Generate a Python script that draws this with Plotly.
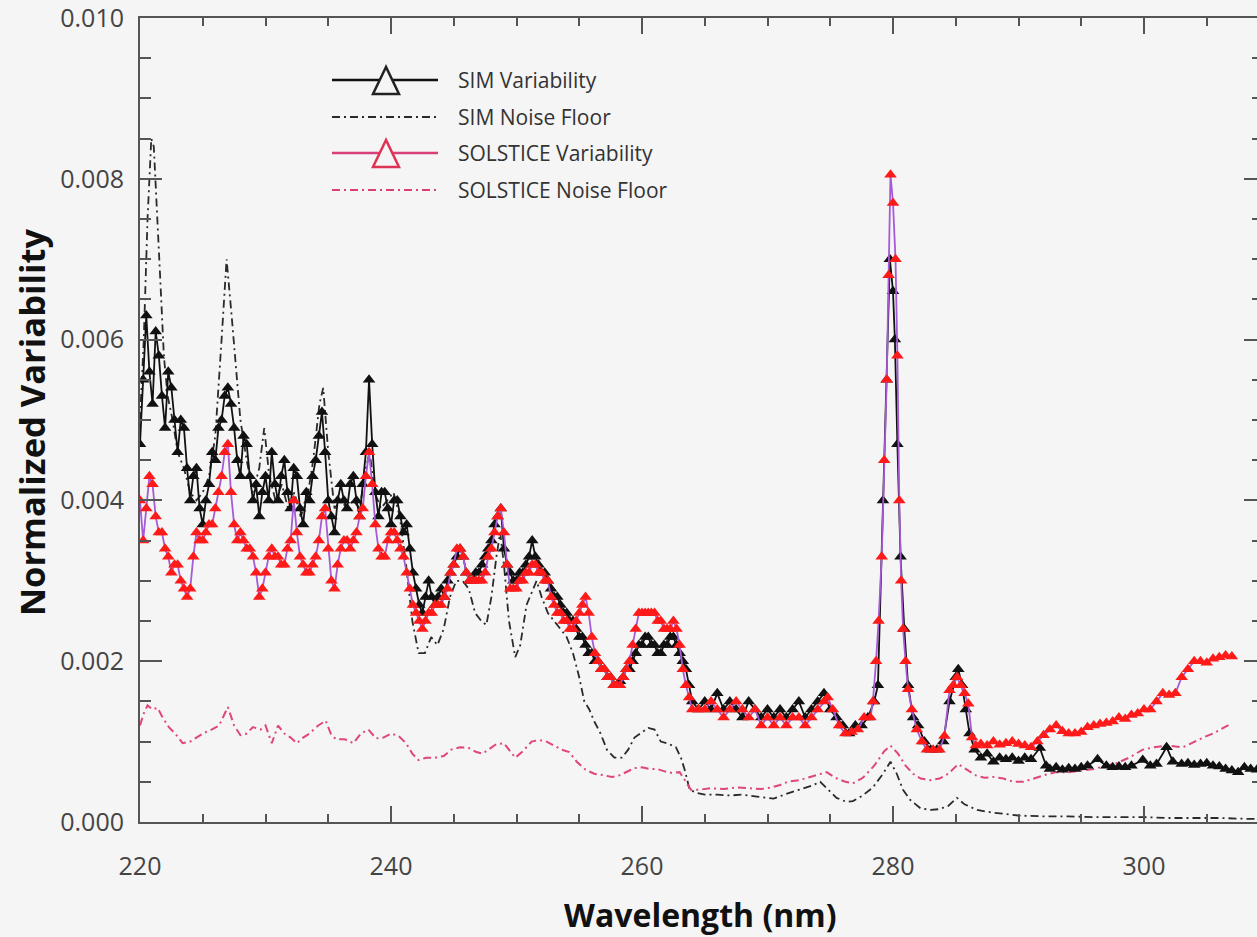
import plotly.graph_objects as go

# ---------------- data ----------------
# SIM variability: 0.25 nm sampling from 220 to 264 nm, then the values listed below
sim_var_dense = [
    0.0047, 0.0055, 0.0063, 0.0056, 0.0052, 0.0061, 0.0058, 0.0053, 0.0049, 0.0056,
    0.0054, 0.0050, 0.0046, 0.0050, 0.0049, 0.0044, 0.0040, 0.0043, 0.0044, 0.0039,
    0.0037, 0.0040, 0.0042, 0.0046, 0.0045, 0.0049, 0.0050, 0.0053, 0.0054, 0.0052,
    0.0049, 0.0045, 0.0043, 0.0048, 0.0047, 0.0043, 0.0040, 0.0042, 0.0038, 0.0041,
    0.0043, 0.0040, 0.0046, 0.0042, 0.0040, 0.0043, 0.0045, 0.0041, 0.0039, 0.0044,
    0.0043, 0.0039, 0.0037, 0.0041, 0.0040, 0.0043, 0.0045, 0.0048, 0.0051, 0.0046,
    0.0040, 0.0038, 0.0036, 0.0040, 0.0042, 0.0040, 0.0039, 0.0042, 0.0043, 0.0040,
    0.0038, 0.0042, 0.0046, 0.0055, 0.0047, 0.0041, 0.0038, 0.0041, 0.0041, 0.0039,
    0.0037, 0.0040, 0.0040, 0.0038, 0.0036, 0.0037, 0.0034, 0.0031, 0.0029, 0.0027,
    0.0026, 0.0028, 0.0030, 0.0028, 0.0027, 0.0028, 0.0029, 0.0028, 0.0030, 0.0031,
    0.0032, 0.0033, 0.0034, 0.0033, 0.0031, 0.0030, 0.0030, 0.0031, 0.0031, 0.0032,
    0.0033, 0.0034, 0.0035, 0.0037, 0.0038, 0.0039, 0.0034, 0.0032, 0.0031, 0.0030,
    0.0030, 0.0031, 0.0031, 0.0032, 0.0033, 0.0035, 0.0033, 0.0032, 0.0031, 0.0031,
    0.0030, 0.0029, 0.0028, 0.0028, 0.0027, 0.0026, 0.0026, 0.0025, 0.0025, 0.0024,
    0.0023, 0.0023, 0.0022, 0.0021, 0.0021, 0.0020, 0.0020, 0.0019, 0.0019, 0.0018,
    0.0018, 0.0017, 0.0017, 0.00175, 0.0018, 0.0019, 0.0019, 0.0020, 0.0021, 0.0022,
    0.0022, 0.0023, 0.0023, 0.0022, 0.0022, 0.0021, 0.0021, 0.0022, 0.0022, 0.0023,
    0.0023, 0.0022, 0.0021, 0.0020, 0.0019, 0.0017, 0.0015,
]
sim_var_tail_wl = [
    264.5, 265.0, 265.5, 266.0, 266.5, 267.0, 267.5, 268.0, 268.5,
    269.0, 269.5, 270.0, 270.5, 271.0, 271.5, 272.0, 272.5, 273.0, 273.5,
    274.0, 274.5, 275.0, 275.5, 276.0, 276.5, 277.0, 277.5, 278.0, 278.5,
    278.8, 279.2, 279.5, 279.75, 280.0, 280.15, 280.35, 280.6, 280.9, 281.2,
    281.6, 282.0, 282.5, 283.0, 283.5, 284.0, 284.5, 285.0, 285.2, 285.5,
    285.8, 286.1, 286.5, 287.0, 287.5, 288.0, 288.5, 289.0, 289.5, 290.0,
    290.5, 291.0, 291.7, 292.2, 292.5, 293.0, 293.5, 294.0, 294.5, 295.0,
    295.5, 296.3, 297.0, 297.5, 298.0, 298.5, 299.0, 299.9, 300.5, 301.0,
    301.8, 302.3, 303.0, 303.5, 304.0, 304.5, 305.0, 305.5, 306.0, 306.5,
    307.0, 307.5, 308.0, 308.5, 309.0,
]
sim_var_tail = [
    0.0014, 0.0015, 0.0014, 0.0016, 0.0014, 0.0015, 0.0014, 0.0013, 0.0015,
    0.0014, 0.0013, 0.0014, 0.0013, 0.0014, 0.0013, 0.0014, 0.0015, 0.0013, 0.0014,
    0.0015, 0.0016, 0.0014, 0.0013, 0.0012, 0.0011, 0.0012, 0.0012, 0.0013, 0.0015,
    0.0017, 0.0040, 0.0055, 0.0070, 0.0066, 0.0060, 0.0047, 0.0033, 0.0024, 0.0017,
    0.0013, 0.0012, 0.0010, 0.0009, 0.0009, 0.0010, 0.0015, 0.0018, 0.0019, 0.0017,
    0.0014, 0.0011, 0.0009, 0.0008, 0.00085, 0.00075, 0.0008, 0.00078, 0.0008, 0.00076,
    0.0008, 0.00078, 0.00092, 0.0007, 0.00066, 0.00068, 0.00065, 0.00067, 0.00066, 0.00068,
    0.0007, 0.00078, 0.0007, 0.00068, 0.00069, 0.00068, 0.0007, 0.00077, 0.0007, 0.00072,
    0.00093, 0.00075, 0.00072, 0.00073, 0.00071, 0.00072, 0.00073, 0.0007, 0.00069, 0.00066,
    0.00064, 0.00062, 0.00068, 0.00066, 0.00065,
]

# SOLSTICE variability: 0.25 nm sampling from 220 to 264 nm, then the values listed below
sol_var_dense = [
    0.0040, 0.0035, 0.0039, 0.0043, 0.0042, 0.0038, 0.0036, 0.0036, 0.0034, 0.0033,
    0.0031, 0.0032, 0.0032, 0.0030, 0.0029, 0.0028, 0.0029, 0.0033, 0.0036, 0.0035,
    0.0035, 0.0036, 0.0037, 0.0037, 0.0039, 0.0041, 0.0043, 0.0046, 0.0047, 0.0041,
    0.0037, 0.0035, 0.0036, 0.0035, 0.0034, 0.0034, 0.0033, 0.0031, 0.0028, 0.0029,
    0.0031, 0.0033, 0.0034, 0.0033, 0.0033, 0.0032, 0.0032, 0.0034, 0.0035, 0.0040,
    0.0036, 0.0033, 0.0032, 0.0031, 0.0031, 0.0032, 0.0033, 0.0035, 0.0038, 0.0039,
    0.0034, 0.0030, 0.0029, 0.0032, 0.0034, 0.0035, 0.0035, 0.0034, 0.0035, 0.0036,
    0.0038, 0.0039, 0.0043, 0.0046, 0.0042, 0.0037, 0.0034, 0.0033, 0.0033, 0.0035,
    0.0036, 0.0036, 0.0035, 0.0034, 0.0033, 0.0031, 0.0029, 0.0027, 0.0026, 0.0025,
    0.0024, 0.0025, 0.0026, 0.0026, 0.0027, 0.0027, 0.0027, 0.0028, 0.0029, 0.0031,
    0.0032, 0.0034, 0.0034, 0.0033, 0.0031, 0.0030, 0.0030, 0.0030, 0.0030, 0.0030,
    0.0031, 0.0033, 0.0034, 0.0036, 0.0038, 0.0039, 0.0036, 0.0032, 0.0029, 0.0029,
    0.0029, 0.0030, 0.0030, 0.0031, 0.0031, 0.0032, 0.0032, 0.0031, 0.0031, 0.0030,
    0.0030, 0.0028, 0.0027, 0.0026, 0.0026, 0.0025, 0.0025, 0.0024, 0.0024, 0.0025,
    0.0026, 0.0027, 0.0028, 0.0026, 0.0023, 0.0021, 0.0020, 0.0019, 0.0019, 0.0018,
    0.0018, 0.0017, 0.0017, 0.0017, 0.0018, 0.0019, 0.0020, 0.0022, 0.0024, 0.0026,
    0.0026, 0.0026, 0.0026, 0.0026, 0.0026, 0.0025, 0.0025, 0.0024, 0.0024, 0.0024,
    0.0025, 0.0024, 0.0022, 0.0019, 0.0017, 0.00155, 0.0014,
]
sol_var_tail_wl = [
    264.5, 265.0, 265.5, 266.0, 266.5, 267.0, 267.5, 268.0, 268.5, 269.0,
    269.5, 270.0, 270.5, 271.0, 271.5, 272.0, 272.5, 273.0, 273.5, 274.0,
    274.5, 274.8, 275.2, 275.7, 276.2, 276.7, 277.2, 277.7, 278.2, 278.4,
    278.65, 278.85, 279.1, 279.3, 279.5, 279.65, 279.8, 280.0, 280.2, 280.35,
    280.5, 280.65, 280.8, 281.0, 281.2, 281.5, 281.9, 282.3, 282.7, 283.2,
    283.7, 284.1, 284.5, 284.8, 285.1, 285.4, 285.7, 286.0, 286.3, 286.6,
    287.0, 287.5, 288.0, 288.5, 289.0, 289.5, 290.0, 290.5, 291.0, 291.5,
    292.0, 292.5, 293.0, 293.5, 294.0, 294.5, 295.0, 295.5, 296.0, 296.5,
    297.0, 297.5, 298.0, 298.5, 299.0, 299.5, 300.0, 300.5, 301.0, 301.5,
    302.0, 302.5, 303.0, 303.5, 304.0, 304.5, 305.0, 305.5, 306.0, 306.5,
    307.0,
]
sol_var_tail = [
    0.0014, 0.0014, 0.0015, 0.0014, 0.0013, 0.0014, 0.0015, 0.0014, 0.0013, 0.0014,
    0.0012, 0.0013, 0.0012, 0.0013, 0.0012, 0.0013, 0.0013, 0.0012, 0.0013, 0.0014,
    0.0015, 0.00155, 0.0014, 0.0012, 0.0011, 0.00112, 0.00115, 0.0013, 0.0013, 0.0015,
    0.0020, 0.0025, 0.0033, 0.0045, 0.0055, 0.0068, 0.00805, 0.0077, 0.0070, 0.0058,
    0.0040, 0.0030, 0.0024, 0.0020, 0.00165, 0.0014, 0.00115, 0.0010, 0.0009, 0.0009,
    0.0009, 0.00107, 0.00164, 0.0017, 0.0018, 0.0017, 0.0016, 0.00147, 0.00105, 0.00095,
    0.00097, 0.00095, 0.0010, 0.00096, 0.00098, 0.0010, 0.00097, 0.00095, 0.00093, 0.0010,
    0.00108, 0.00115, 0.0012, 0.00113, 0.0011, 0.0011, 0.00112, 0.00118, 0.0012, 0.00122,
    0.00123, 0.00125, 0.0013, 0.00128, 0.00133, 0.00135, 0.0014, 0.0014, 0.0015, 0.0016,
    0.00158, 0.0016, 0.0018, 0.0019, 0.0020, 0.0020, 0.00198, 0.00203, 0.00205, 0.00207,
    0.00206,
]

sim_noise_wl = [
    220.0, 220.3, 220.6, 220.9, 221.1, 221.3, 221.6, 221.9, 222.2, 222.6,
    223.0, 223.5, 224.0, 224.5, 225.0, 225.5, 226.0, 226.5, 226.9, 227.3,
    227.7, 228.0, 228.5, 229.0, 229.5, 229.9, 230.3, 230.8, 231.3, 231.8,
    232.3, 232.8, 233.3, 233.8, 234.3, 234.6, 235.0, 235.5, 236.0, 236.5,
    237.0, 237.5, 238.0, 238.3, 238.7, 239.2, 239.7, 240.2, 240.7, 241.2,
    241.7, 242.2, 242.7, 243.2, 243.7, 244.2, 244.7, 245.2, 245.7, 246.2,
    246.7, 247.2, 247.6, 248.0, 248.4, 248.7, 249.0, 249.4, 249.9, 250.3,
    250.8, 251.3, 251.6, 252.0, 252.5, 253.0, 253.5, 254.0, 254.5, 255.0,
    255.4, 255.8, 256.2, 256.7, 257.2, 257.8, 258.4, 258.9, 259.4, 259.9,
    260.5, 261.0, 261.5, 262.0, 262.7, 263.1, 263.4, 263.8, 264.4, 265.0,
    266.0, 267.0, 268.0, 269.0, 270.0, 270.5, 271.5, 272.5, 273.5, 274.2,
    274.7, 275.5, 276.3, 276.8, 277.5, 278.4, 279.2, 279.8, 280.3, 280.8,
    281.4, 282.2, 283.0, 283.7, 284.4, 285.1, 285.7, 286.7, 287.8, 288.8,
    290.0, 292.0, 294.0, 296.0, 298.0, 300.0, 302.0, 304.0, 306.0, 308.0,
    309.0,
]
sim_noise = [
    0.0050, 0.0060, 0.0075, 0.0085, 0.0084, 0.0078, 0.0068, 0.0058, 0.0053, 0.0050,
    0.0046, 0.0044, 0.0041, 0.0040, 0.0041, 0.0043, 0.0048, 0.0060, 0.0070, 0.0063,
    0.0055, 0.0050, 0.0045, 0.0041, 0.0044, 0.0049, 0.0043, 0.0040, 0.0042, 0.0039,
    0.0041, 0.0038, 0.0040, 0.0045, 0.0052, 0.0054, 0.0046, 0.0039, 0.0040, 0.0039,
    0.0040, 0.0039, 0.0044, 0.0046, 0.0041, 0.0039, 0.0040, 0.0041, 0.0038, 0.0032,
    0.0025, 0.0021, 0.0021, 0.0023, 0.0022, 0.0024, 0.0028, 0.0030, 0.0030, 0.0029,
    0.0026, 0.0025, 0.00245, 0.0028, 0.0033, 0.0036, 0.0032, 0.0025, 0.00205, 0.0022,
    0.0027, 0.0029, 0.0030, 0.0028, 0.0026, 0.0025, 0.0024, 0.0023, 0.0021, 0.0018,
    0.0015, 0.0014, 0.00125, 0.0011, 0.0009, 0.0008, 0.0008, 0.0009, 0.00105, 0.0011,
    0.00117, 0.00115, 0.0010, 0.00098, 0.00093, 0.0008, 0.00065, 0.0004, 0.00036, 0.00034,
    0.00034, 0.00033, 0.00034, 0.00032, 0.0003, 0.00029, 0.00035, 0.0004, 0.00045, 0.0005,
    0.00042, 0.0003, 0.00025, 0.00026, 0.00032, 0.00043, 0.0006, 0.00075, 0.0006, 0.0004,
    0.00027, 0.00017, 0.00015, 0.00016, 0.0002, 0.0003, 0.00022, 0.00015, 0.00012, 0.0001,
    0.00008, 0.00007, 0.00007, 0.00006, 0.00006, 0.00006, 0.00005, 0.00005, 0.00005, 0.00004,
    0.00004,
]

sol_noise_wl = [
    220.0, 220.3, 220.6, 221.0, 221.4, 221.8, 222.3, 222.8, 223.4, 224.0,
    224.5, 225.0, 225.7, 226.3, 227.0, 227.5, 228.0, 228.5, 229.0, 229.6,
    230.0, 230.5, 231.0, 231.5, 232.0, 232.5, 233.0, 233.5, 234.2, 234.8,
    235.2, 235.6, 236.3, 237.0, 237.6, 238.2, 238.8, 239.4, 240.0, 240.6,
    241.2, 241.7, 242.2, 242.8, 243.5, 244.2, 244.8, 245.5, 246.2, 246.8,
    247.3, 247.8, 248.4, 249.0, 249.5, 249.9, 250.5, 251.2, 251.8, 252.4,
    253.0, 253.6, 254.2, 254.8, 255.5, 256.2, 257.0, 257.6, 258.2, 258.8,
    259.4, 260.0, 260.6, 261.2, 261.8, 262.4, 263.0, 263.5, 263.9, 264.5,
    265.5, 266.5, 267.5, 268.5, 269.5, 270.3, 271.0, 271.6, 272.5, 273.4,
    274.2, 274.7, 275.4, 276.2, 276.8, 277.6, 278.5, 279.3, 279.8, 280.4,
    281.0, 281.6, 282.2, 283.0, 283.7, 284.4, 285.2, 285.8, 286.6, 287.3,
    288.0, 288.8, 289.6, 290.4, 291.2, 292.0, 293.0, 294.0, 295.0, 296.0,
    297.0, 297.8, 298.8, 299.9, 300.8, 301.8, 302.5, 303.1, 303.8, 304.7,
    305.5, 306.2, 306.9,
]
sol_noise = [
    0.0012, 0.00135, 0.00145, 0.0014, 0.00142, 0.0013, 0.00118, 0.0011, 0.00098, 0.0010,
    0.00105, 0.0011, 0.00115, 0.0012, 0.00143, 0.0012, 0.00108, 0.0011, 0.00118, 0.00115,
    0.0012, 0.00098, 0.0012, 0.0011, 0.00105, 0.00098, 0.00105, 0.0011, 0.0012, 0.00126,
    0.0011, 0.00103, 0.00103, 0.00098, 0.0011, 0.00115, 0.00104, 0.00105, 0.0011, 0.00107,
    0.00098, 0.00085, 0.00077, 0.0008, 0.0008, 0.00082, 0.0009, 0.00093, 0.00092, 0.00087,
    0.00085, 0.0009, 0.00097, 0.00098, 0.00088, 0.0008, 0.00088, 0.0010, 0.00102, 0.0010,
    0.00095, 0.0009, 0.00087, 0.00075, 0.00065, 0.0006, 0.00058, 0.00056, 0.00058, 0.00062,
    0.00067, 0.00068, 0.00066, 0.00066, 0.00063, 0.00061, 0.00062, 0.0005, 0.0004, 0.0004,
    0.00042, 0.00041, 0.00043, 0.00042, 0.00041, 0.00043, 0.00046, 0.0005, 0.00052, 0.00056,
    0.0006, 0.00062, 0.00055, 0.0005, 0.00048, 0.00055, 0.0007, 0.00088, 0.00095, 0.00085,
    0.0007, 0.0006, 0.00054, 0.00052, 0.00054, 0.0006, 0.00072, 0.00066, 0.00058, 0.00055,
    0.00056, 0.00054, 0.0005, 0.0005, 0.00054, 0.00058, 0.00062, 0.00062, 0.00064, 0.00066,
    0.0007, 0.00073, 0.0008, 0.0009, 0.00093, 0.00095, 0.00094, 0.00093, 0.00098, 0.00105,
    0.0011, 0.00116, 0.00122,
]

x_tick_vals = [220, 240, 260, 280, 300]
y_tick_vals = [0.000, 0.002, 0.004, 0.006, 0.008, 0.010]
legend_names = ["SIM Variability", "SIM Noise Floor",
                "SOLSTICE Variability", "SOLSTICE Noise Floor"]

# wavelength grids (0.25 nm sampling of the dense part of each spectrum)
sim_var_wl = [220 + 0.25 * i for i in range(len(sim_var_dense))] + sim_var_tail_wl
sim_var = sim_var_dense + sim_var_tail
sol_var_wl = [220 + 0.25 * i for i in range(len(sol_var_dense))] + sol_var_tail_wl
sol_var = sol_var_dense + sol_var_tail

# ---------------- styles ----------------
W, H = 1257, 937
ML, MR, MT, MB = 140, 0, 18, 115
BG = "#f5f5f5"
AX = "#555555"
FONT = "Open Sans"
DASHDOT = "8px,4px,2px,4px"
SIM_C = "#111111"
SIM_NOISE_C = "#2a2a2a"
SOL_MARK_C = "#ff1a1a"
SOL_LINE_C = "#a65ad6"
SOL_NOISE_C = "#e0457b"
SOL_LEG_C = "#d9407a"

pw = W - ML - MR
ph = H - MT - MB


def xp(px):
    return (px - ML) / pw


def yp(py):
    return (H - MB - py) / ph


fig = go.Figure()

fig.add_trace(go.Scatter(x=sim_noise_wl, y=sim_noise, mode="lines",
                         line=dict(color=SIM_NOISE_C, width=1.8, dash=DASHDOT),
                         name=legend_names[1], showlegend=False))
fig.add_trace(go.Scatter(x=sol_noise_wl, y=sol_noise, mode="lines",
                         line=dict(color=SOL_NOISE_C, width=2, dash=DASHDOT),
                         name=legend_names[3], showlegend=False))
fig.add_trace(go.Scatter(x=sim_var_wl, y=sim_var, mode="lines+markers",
                         line=dict(color=SIM_C, width=1.8),
                         marker=dict(symbol="triangle-up", size=11, color=SIM_C),
                         name=legend_names[0], showlegend=False))
fig.add_trace(go.Scatter(x=sol_var_wl, y=sol_var, mode="lines+markers",
                         line=dict(color=SOL_LINE_C, width=1.8),
                         marker=dict(symbol="triangle-up", size=11, color=SOL_MARK_C),
                         name=legend_names[2], showlegend=False))
# invisible trace to carry the right-hand tick axis
fig.add_trace(go.Scatter(x=[None], y=[None], yaxis="y2", showlegend=False,
                         hoverinfo="skip"))

x_range = [220, 220 + pw / 12.55]
y_range = [0, 0.010 * 1.00002]

fig.update_layout(
    width=W, height=H,
    margin=dict(l=ML, r=MR, t=MT, b=MB, pad=0),
    paper_bgcolor=BG, plot_bgcolor=BG,
    font=dict(family=FONT, color="#444444"),
    showlegend=False,
    xaxis=dict(range=x_range, tickvals=x_tick_vals, ticks="inside", ticklen=16,
               tickwidth=2, tickcolor=AX, showline=True, linecolor=AX, linewidth=2,
               mirror="ticks", showgrid=False, zeroline=False,
               tickfont=dict(size=25, color="#444444"), ticklabelstandoff=21,
               ticklabeloverflow="allow",
               minor=dict(dtick=5, tick0=220, ticks="inside", ticklen=8,
                          tickwidth=2, tickcolor=AX, showgrid=False)),
    yaxis=dict(range=y_range, tickvals=y_tick_vals, tickformat=".3f",
               ticks="inside", ticklen=22, tickwidth=2, tickcolor=AX,
               showline=True, linecolor=AX, linewidth=2, showgrid=False,
               zeroline=False, tickfont=dict(size=25, color="#444444"),
               ticklabelstandoff=9, ticklabeloverflow="allow",
               minor=dict(dtick=0.0005, tick0=0, ticks="inside", ticklen=11,
                          tickwidth=2, tickcolor=AX, showgrid=False)),
    yaxis2=dict(range=y_range, overlaying="y", side="right", tickvals=y_tick_vals,
                ticks="inside", ticklen=13, tickwidth=2, tickcolor=AX,
                showline=False, showgrid=False, zeroline=False,
                showticklabels=False,
                minor=dict(dtick=0.0005, tick0=0, ticks="inside", ticklen=5,
                           tickwidth=2, tickcolor=AX, showgrid=False)),
)

# axis titles
fig.add_annotation(text="<b>Wavelength (nm)</b>", xref="paper", yref="paper",
                   x=xp(700), y=yp(914), xanchor="center", yanchor="middle",
                   showarrow=False, font=dict(size=32, color="#111111", family=FONT))
fig.add_annotation(text="<b>Normalized Variability</b>", xref="paper", yref="paper",
                   x=xp(31), y=yp(422), xanchor="center", yanchor="middle",
                   textangle=-90, showarrow=False,
                   font=dict(size=34.5, color="#111111", family=FONT))

# custom legend
rows_y = [80, 117, 153, 190]
line_x0, line_x1, tri_cx = 332, 438, 386
leg_styles = [
    dict(color=SIM_C, dash="solid", tri=True),
    dict(color=SIM_NOISE_C, dash=DASHDOT, tri=False),
    dict(color=SOL_LEG_C, dash="solid", tri=True),
    dict(color=SOL_LEG_C, dash=DASHDOT, tri=False),
]
for name, ry, st in zip(legend_names, rows_y, leg_styles):
    fig.add_shape(type="line", xref="paper", yref="paper",
                  x0=xp(line_x0), x1=xp(line_x1), y0=yp(ry), y1=yp(ry),
                  line=dict(color=st["color"], width=2.5 if st["tri"] else 2,
                            dash=st["dash"]))
    if st["tri"]:
        tcol = "#222222" if st["color"] == SIM_C else "#dd3355"
        path = "M {:.5f} {:.5f} L {:.5f} {:.5f} L {:.5f} {:.5f} Z".format(
            xp(tri_cx), yp(ry - 13), xp(tri_cx - 13), yp(ry + 14),
            xp(tri_cx + 13), yp(ry + 14))
        fig.add_shape(type="path", xref="paper", yref="paper", path=path,
                      fillcolor=BG, line=dict(color=tcol, width=2.5))
    fig.add_annotation(text=name, xref="paper", yref="paper",
                       x=xp(456), y=yp(ry), xanchor="left", yanchor="middle",
                       showarrow=False,
                       font=dict(size=21, color="#333333", family=FONT))

fig.write_html("out.html")
